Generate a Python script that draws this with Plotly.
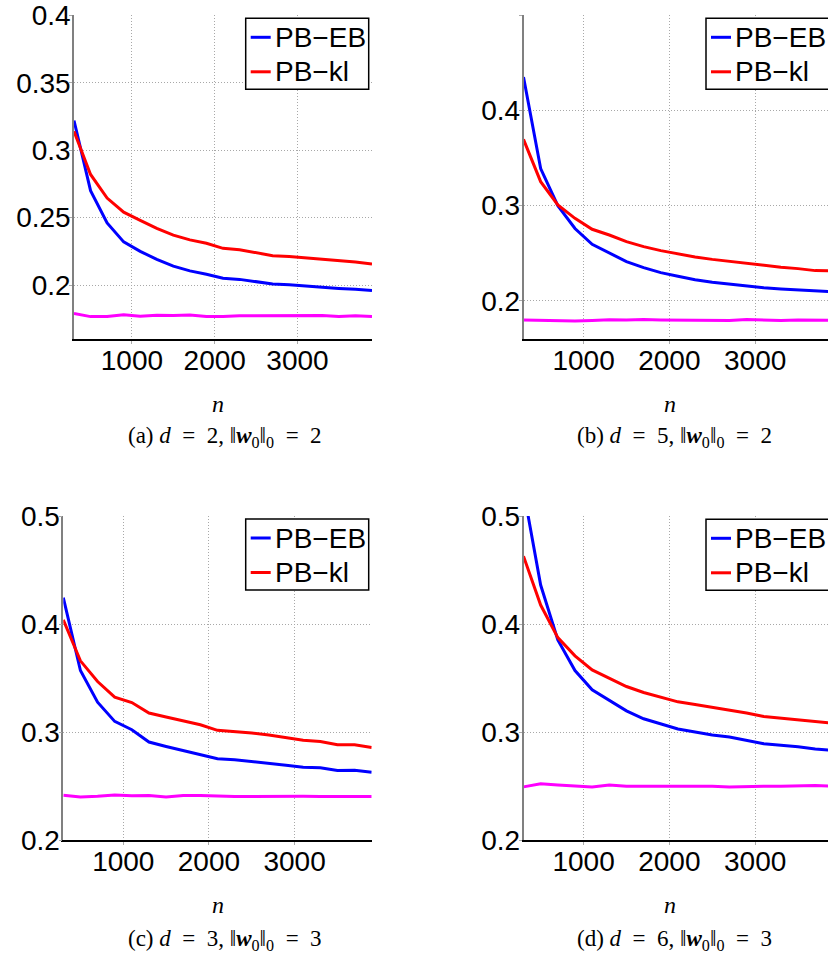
import plotly.graph_objects as go

# ---------------- data ----------------
n_values = [300, 500, 700, 900, 1100, 1300, 1500, 1700, 1900, 2100,
            2300, 2500, 2700, 2900, 3100, 3300, 3500, 3700, 3900]

# (a) d=2, ||w0||_0=2
a_eb = [0.322, 0.270, 0.246, 0.232, 0.225, 0.219, 0.214, 0.2105, 0.208, 0.205,
        0.2042, 0.2025, 0.2008, 0.2002, 0.1992, 0.1982, 0.1975, 0.1968, 0.196]
a_kl = [0.314, 0.282, 0.2645, 0.254, 0.248, 0.242, 0.237, 0.2335, 0.231, 0.2272,
        0.2262, 0.224, 0.2218, 0.2212, 0.2202, 0.219, 0.2178, 0.217, 0.2156]
a_base = [0.179, 0.1766, 0.1766, 0.178, 0.1768, 0.1776, 0.1775, 0.1778, 0.1766, 0.1766,
          0.1772, 0.1772, 0.1775, 0.177, 0.1775, 0.1775, 0.1766, 0.1772, 0.1766]

# (b) d=5, ||w0||_0=2
b_eb = [0.435, 0.339, 0.300, 0.276, 0.2594, 0.250, 0.2413, 0.235, 0.2297, 0.2258,
        0.2222, 0.2195, 0.2175, 0.2155, 0.2138, 0.2125, 0.2113, 0.210, 0.2095]
b_kl = [0.3696, 0.3252, 0.3007, 0.2867, 0.2752, 0.2692, 0.2622, 0.257, 0.2528, 0.2493,
        0.2462, 0.2436, 0.2415, 0.2388, 0.2367, 0.2353, 0.2339, 0.2318, 0.2315]
b_base = [0.180, 0.1795, 0.179, 0.179, 0.1795, 0.1802, 0.180, 0.1805, 0.180, 0.180,
          0.1798, 0.180, 0.1795, 0.1805, 0.180, 0.1795, 0.180, 0.1798, 0.1795]

# (c) d=3, ||w0||_0=3
c_eb = [0.4245, 0.357, 0.3277, 0.3099, 0.3022, 0.2908, 0.2867, 0.283, 0.2797, 0.2753,
        0.2744, 0.2729, 0.2713, 0.2692, 0.2673, 0.267, 0.2643, 0.2646, 0.2627]
c_kl = [0.4039, 0.366, 0.3468, 0.3324, 0.3274, 0.3176, 0.3139, 0.3105, 0.3068, 0.3016,
        0.3006, 0.2991, 0.2972, 0.2951, 0.2925, 0.2912, 0.2882, 0.2882, 0.2858]
c_base = [0.2415, 0.2398, 0.2405, 0.2418, 0.241, 0.2412, 0.2398, 0.2413, 0.2413, 0.2405,
          0.2403, 0.2403, 0.2405, 0.2405, 0.2405, 0.2403, 0.2403, 0.2405, 0.2403]

# (d) d=6, ||w0||_0=3
d_eb = [0.524, 0.4362, 0.3854, 0.357, 0.3391, 0.329, 0.3197, 0.3123, 0.3077, 0.3028,
        0.300, 0.2972, 0.2954, 0.2923, 0.2892, 0.2877, 0.2864, 0.2843, 0.283]
d_kl = [0.463, 0.4177, 0.3875, 0.3706, 0.3576, 0.3499, 0.3422, 0.3367, 0.3324, 0.328,
        0.3256, 0.3231, 0.3206, 0.3176, 0.3145, 0.3129, 0.3114, 0.3093, 0.3083]
d_base = [0.2492, 0.2522, 0.251, 0.2498, 0.2492, 0.251, 0.2498, 0.2498, 0.2498, 0.2501,
          0.2498, 0.2498, 0.2492, 0.2498, 0.2498, 0.2498, 0.2504, 0.2504, 0.2498]

x_tickvals = [1000, 2000, 3000]
x_ticktext = ["1000", "2000", "3000"]
a_yticks = [0.2, 0.25, 0.3, 0.35, 0.4]
a_yticktext = ["0.2", "0.25", "0.3", "0.35", "0.4"]
bcd_yticks = [0.2, 0.3, 0.4, 0.5]
bcd_yticktext = ["0.2", "0.3", "0.4", "0.5"]

series_names = ["PB\u2212EB", "PB\u2212kl"]
SP = "\u2002"
captions = [
    f"(a) <i>d</i>{SP}={SP}2, \u2016<b><i>w</i></b><sub>0</sub>\u2016<sub>0</sub>{SP}={SP}2",
    f"(b) <i>d</i>{SP}={SP}5, \u2016<b><i>w</i></b><sub>0</sub>\u2016<sub>0</sub>{SP}={SP}2",
    f"(c) <i>d</i>{SP}={SP}3, \u2016<b><i>w</i></b><sub>0</sub>\u2016<sub>0</sub>{SP}={SP}3",
    f"(d) <i>d</i>{SP}={SP}6, \u2016<b><i>w</i></b><sub>0</sub>\u2016<sub>0</sub>{SP}={SP}3",
]

# ---------------- layout helpers ----------------
W, H = 828, 965


def fx(p):
    return p / W


def fy(p):
    return 1 - p / H


SANS = "Liberation Sans, Arial, Helvetica, sans-serif"
SERIF = "Liberation Serif, Times New Roman, serif"
C_EB, C_KL, C_BASE = "#0000ff", "#ff0000", "#ff00ff"

panels = [
    dict(eb=a_eb, kl=a_kl, base=a_base, xpx=(74, 372), ypx=(15, 339),
         xr=(300, 3900), yr=(0.16, 0.4002), yt=a_yticks, ytt=a_yticktext,
         leg=(245.7, 18.3), ncx=218, ncy=404, capx=225, capy=437),
    dict(eb=b_eb, kl=b_kl, base=b_base, xpx=(523.5, 828), ypx=(15, 339),
         xr=(300, 3849), yr=(0.16, 0.5002), yt=bcd_yticks, ytt=bcd_yticktext,
         leg=(706, 18.3), ncx=670, ncy=404, capx=674, capy=437),
    dict(eb=c_eb, kl=c_kl, base=c_base, xpx=(63.3, 371.7), ypx=(516, 840),
         xr=(300, 3900), yr=(0.2, 0.5002), yt=bcd_yticks, ytt=bcd_yticktext,
         leg=(245.7, 519), ncx=218, ncy=905, capx=225, capy=940),
    dict(eb=d_eb, kl=d_kl, base=d_base, xpx=(523.5, 828), ypx=(516, 840),
         xr=(300, 3849), yr=(0.2, 0.5002), yt=bcd_yticks, ytt=bcd_yticktext,
         leg=(706, 519.3), ncx=670, ncy=905, capx=674, capy=940),
]

fig = go.Figure()
shapes = []
annotations = []
layout = dict(
    width=W, height=H,
    margin=dict(l=0, r=0, t=0, b=0, autoexpand=False),
    paper_bgcolor="white", plot_bgcolor="white",
    showlegend=False,
)

LEG_W, LEG_H = 123, 71
for i, p in enumerate(panels):
    k = "" if i == 0 else str(i + 1)
    xa, ya = "x" + k, "y" + k
    for vals, col in ((p["base"], C_BASE), (p["eb"], C_EB), (p["kl"], C_KL)):
        fig.add_trace(go.Scatter(x=n_values, y=vals, mode="lines",
                                 line=dict(color=col, width=3),
                                 xaxis=xa, yaxis=ya, hoverinfo="skip"))
    common = dict(showgrid=True, gridcolor="#a8a8a8", griddash="1px,2px", gridwidth=1,
                  zeroline=False, showline=True, mirror=False, ticks="outside",
                  ticklen=3, tickcolor="#aaaaaa",
                  tickfont=dict(family=SANS, size=28, color="black"))
    layout["xaxis" + k] = dict(common, domain=[fx(p["xpx"][0]), fx(p["xpx"][1])],
                               range=list(p["xr"]), anchor=ya,
                               tickvals=x_tickvals, ticktext=x_ticktext,
                               linecolor="black", linewidth=1.5,
                               ticklabelstandoff=-7)
    layout["yaxis" + k] = dict(common, domain=[fy(p["ypx"][1]), fy(p["ypx"][0])],
                               range=list(p["yr"]), anchor=xa,
                               tickvals=p["yt"], ticktext=p["ytt"],
                               linecolor="#808080", linewidth=1.5,
                               ticklabelstandoff=-7)
    # legend box
    lx, ly = p["leg"]
    shapes.append(dict(type="rect", xref="paper", yref="paper",
                       x0=fx(lx), x1=fx(lx + LEG_W), y0=fy(ly + LEG_H), y1=fy(ly),
                       line=dict(color="black", width=1.5), fillcolor="white", layer="above"))
    for j, (nm, col) in enumerate(zip(series_names, (C_EB, C_KL))):
        cy = ly + 19 + j * 34.5
        shapes.append(dict(type="line", xref="paper", yref="paper",
                           x0=fx(lx + 5), x1=fx(lx + 25), y0=fy(cy), y1=fy(cy),
                           line=dict(color=col, width=3), layer="above"))
        annotations.append(dict(text=nm, xref="paper", yref="paper",
                                x=fx(lx + 27), y=fy(cy), xanchor="left", yanchor="middle",
                                showarrow=False, font=dict(family=SANS, size=28, color="black")))
    annotations.append(dict(text="<i>n</i>", xref="paper", yref="paper",
                            x=fx(p["ncx"]), y=fy(p["ncy"]), xanchor="center", yanchor="middle",
                            showarrow=False, font=dict(family=SERIF, size=24, color="black")))
    annotations.append(dict(text=captions[i], xref="paper", yref="paper",
                            x=fx(p["capx"]), y=fy(p["capy"]), xanchor="center", yanchor="middle",
                            showarrow=False, font=dict(family=SERIF, size=23, color="black")))

layout["shapes"] = shapes
layout["annotations"] = annotations
fig.update_layout(**layout)
fig.write_html("out.html", config={"displayModeBar": False},
               post_script="document.body.style.margin='0';document.body.style.overflow='hidden';")
